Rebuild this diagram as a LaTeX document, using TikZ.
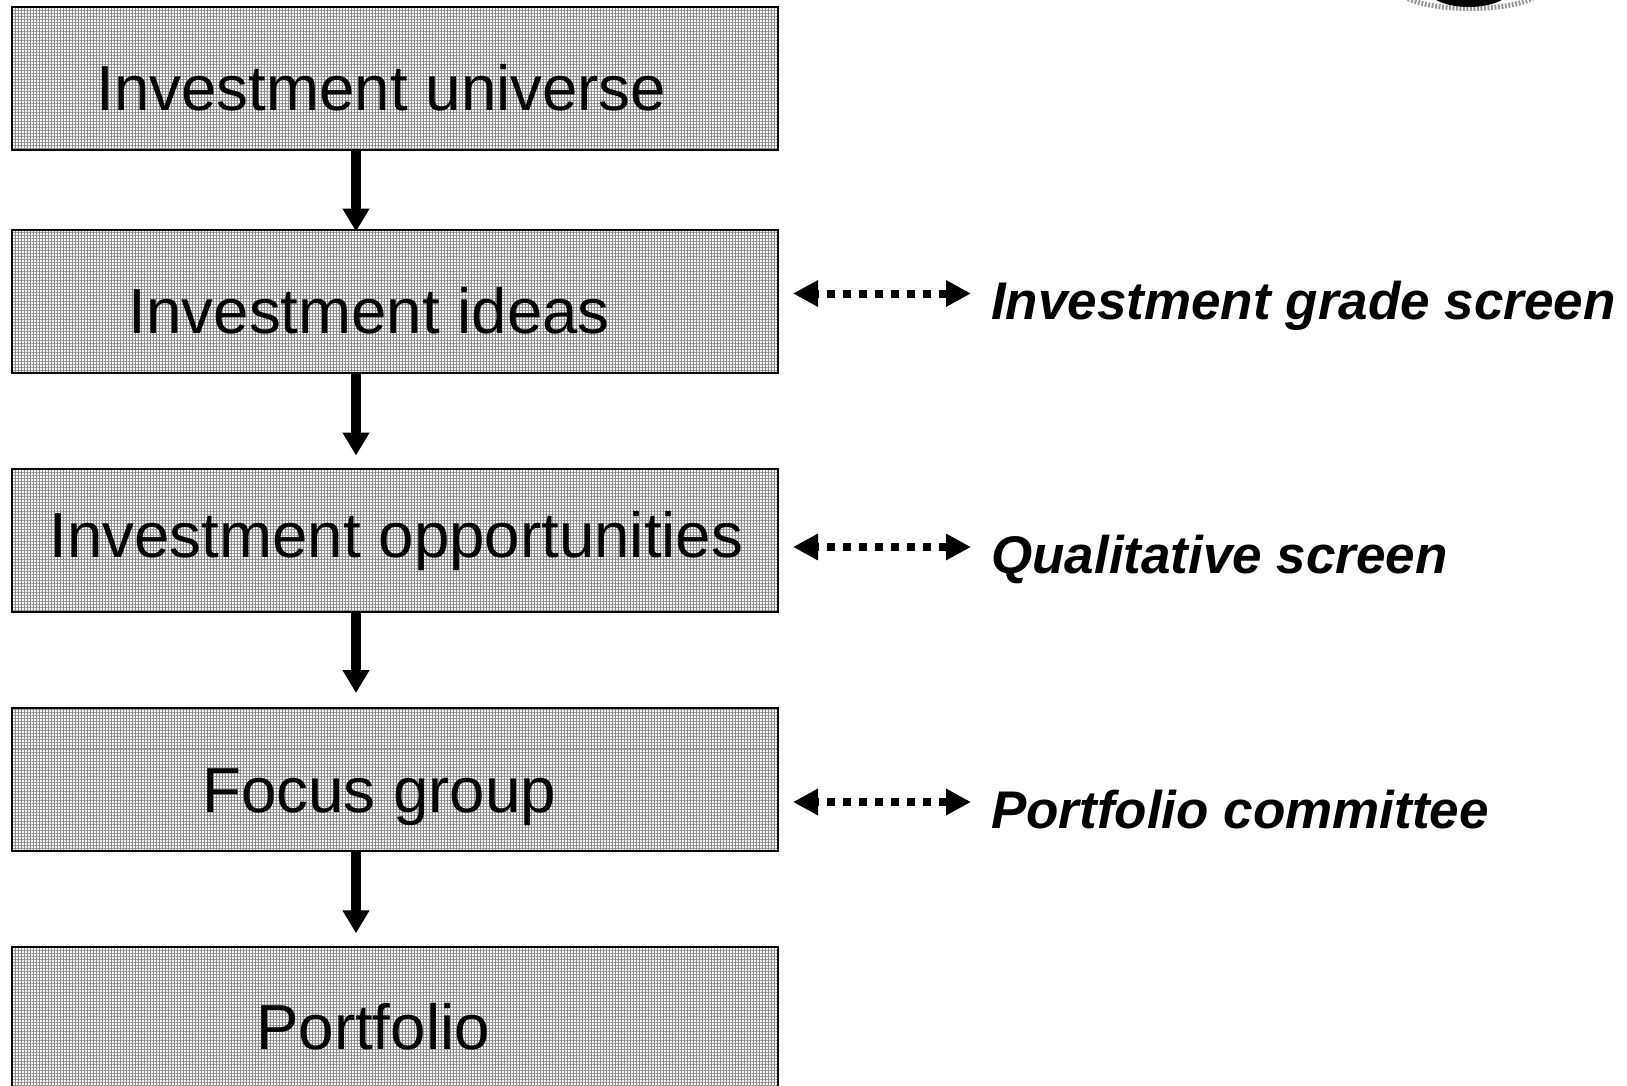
\documentclass[tikz,border=0pt]{standalone}
\usepackage{fontspec}
\setmainfont{Liberation Sans}
\usetikzlibrary{arrows.meta,patterns.meta}
\definecolor{halflight}{HTML}{F5F5F5}
\definecolor{halfdark}{HTML}{8C8C8C}
\tikzset{
  x=1pt,y=-1pt,
  stage/.style={fill=halflight,rectangle,inner sep=0pt,minimum width=766pt,
    postaction={pattern={Lines[angle=0,distance=3pt,line width=1pt]},pattern color=halfdark},
    postaction={pattern={Lines[angle=90,distance=3pt,line width=1pt]},pattern color=halfdark},
    postaction={draw=black,line width=2pt}},
  stagetext/.style={anchor=base west,inner sep=0pt,font=\fontsize{63.65}{70}\selectfont},
  screentext/.style={anchor=base west,inner sep=0pt,font=\fontsize{53}{60}\selectfont\bfseries\itshape},
  flow/.style={draw=black,line width=10pt,-{Triangle[length=23pt,width=25.5pt]}},
  link/.style={draw=black,line width=8pt,dash pattern=on 8pt off 8pt,dash phase=5.5pt,{Triangle[length=25pt,width=25pt]}-{Triangle[length=25pt,width=25pt]}},
}
\begin{document}
\begin{tikzpicture}
\useasboundingbox (0,0) rectangle (1627,1085);
\clip (0,0) rectangle (1627,1085);
\node[stage,minimum height=142.5pt] (b1) at (395,78.5) {};
\node[stage,minimum height=142.5pt] (b2) at (395,301.5) {};
\node[stage,minimum height=142.5pt] (b3) at (395,540.5) {};
\node[stage,minimum height=142.5pt] (b4) at (395,779.5) {};
\node[stage,minimum height=180pt] (b5) at (395,1037) {};
\node[stagetext] (t1) at (96.5,110) {Investment universe};
\node[stagetext] (t2) at (128.5,333) {Investment ideas};
\node[stagetext] (t3) at (49.5,557) {Investment opportunities};
\node[stagetext] (t4) at (202,812) {Focus group};
\node[stagetext] (t5) at (256,1049) {Portfolio};
\coordinate (ax) at (356,0);
\draw[flow,shorten >=-1.5pt] (b1.south -| ax) -- (b2.north -| ax);
\draw[flow,shorten >=13.5pt] (b2.south -| ax) -- (b3.north -| ax);
\draw[flow,shorten >=15pt] (b3.south -| ax) -- (b4.north -| ax);
\draw[flow,shorten >=13.5pt] (b4.south -| ax) -- (b5.north -| ax);
\node[screentext] (s1) at (991,319) {Investment grade screen};
\node[screentext] (s2) at (991,573) {Qualitative screen};
\node[screentext] (s3) at (991,828) {Portfolio committee};
\coordinate (l1) at (793,293.5); \coordinate (r1) at (971,293.5);
\coordinate (l2) at (793,547); \coordinate (r2) at (971,547);
\coordinate (l3) at (793,802); \coordinate (r3) at (971,802);
\draw[link] (l1) -- (r1);
\draw[link] (l2) -- (r2);
\draw[link] (l3) -- (r3);
\draw[gray!80,line width=5pt,dash pattern=on 2pt off 1.5pt] (1470,-10) ellipse (70 and 18.5);
\fill[black] (1469,-15) ellipse (45 and 22);
\end{tikzpicture}
\end{document}
